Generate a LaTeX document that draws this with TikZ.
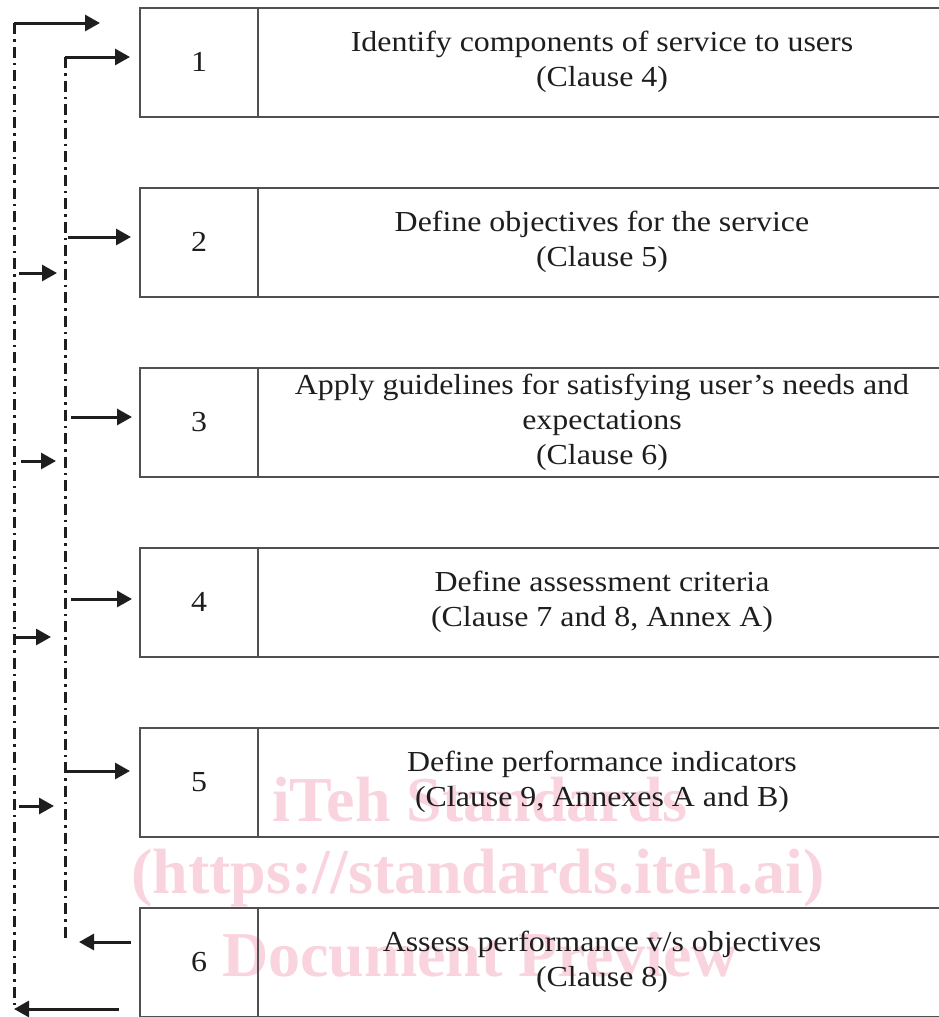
\documentclass[tikz,border=0pt]{standalone}
\usepackage{fontspec}
\setmainfont{Liberation Serif}
\newfontfamily\boxfont[FakeStretch=1.1]{Liberation Serif}
\usetikzlibrary{arrows.meta}
\definecolor{ink}{RGB}{30,30,30}
\definecolor{boxline}{RGB}{80,80,80}
\definecolor{wm}{RGB}{249,212,222}
\tikzset{
  x=1pt, y=-1pt,
  numbox/.style={draw=boxline, line width=2pt, minimum width=118pt, minimum height=109pt, inner sep=0pt, font=\boxfont\fontsize{29}{35}\selectfont, text=ink},
  txtbox/.style={draw=boxline, line width=2pt, minimum width=688pt, minimum height=109pt, inner sep=0pt, align=center, font=\boxfont\fontsize{29}{35}\selectfont, text=ink},
  dashdot/.style={draw=ink, line width=3pt, dash pattern=on 11pt off 5pt on 2.5pt off 5pt},
  arr/.style={draw=ink, line width=3pt, -{Triangle[length=15pt,width=16pt]}},
  wmtext/.style={text=wm, font=\bfseries\fontsize{64}{78}\selectfont}
}
\begin{document}
\begin{tikzpicture}
\useasboundingbox (0,0) rectangle (939,1017);
\clip (0,0) rectangle (939,1017);
\fill[white] (0,0) rectangle (939,1017);
% watermark
\node[wmtext] (wm1) at (480,800) {iTeh Standards};
\node[wmtext] (wm2) at (478,878) {(https://standards.iteh.ai)};
\node[wmtext] (wm3) at (480,955) {Document Preview};
% boxes
\node[numbox] (n1) at (199,62) {1};
\node[txtbox] (t1) at (602,62) {Identify components of service to users\\(Clause 4)};
\node[numbox] (n2) at (199,242) {2};
\node[txtbox] (t2) at (602,242) {Define objectives for the service\\(Clause 5)};
\node[numbox] (n3) at (199,422) {3};
\node[txtbox] (t3) at (602,422) {Apply guidelines for satisfying user’s needs and\\expectations\\(Clause 6)};
\node[numbox] (n4) at (199,602) {4};
\node[txtbox] (t4) at (602,602) {Define assessment criteria\\(Clause 7 and 8, Annex A)};
\node[numbox] (n5) at (199,782) {5};
\node[txtbox] (t5) at (602,782) {Define performance indicators\\(Clause 9, Annexes A and B)};
\node[numbox] (n6) at (199,962) {6};
\node[txtbox] (t6) at (602,962) {Assess performance v/s objectives\\(Clause 8)};
% feedback lines
\coordinate (oTop) at (14,23);
\coordinate (oEnd) at (100,23);
\coordinate (oBot) at (14,1009);
\coordinate (iTop) at (65,57);
\coordinate (iBot) at (65,940);
\draw[dashdot] (oTop) -- (oBot);
\draw[dashdot] (iTop) -- (iBot);
\draw[arr] (oTop) -- (oEnd);
\draw[arr, shorten >=9pt] (iTop) -- (iTop -| n1.west);
% inner line to boxes
\coordinate (i2) at (68,237);
\coordinate (i3) at (71,417);
\coordinate (i4) at (71,599);
\coordinate (i5) at (66,771);
\draw[arr, shorten >=8pt] (i2) -- (i2 -| n2.west);
\draw[arr, shorten >=7pt] (i3) -- (i3 -| n3.west);
\draw[arr, shorten >=7pt] (i4) -- (i4 -| n4.west);
\draw[arr, shorten >=9pt] (i5) -- (i5 -| n5.west);
% outer line to inner line
\coordinate (o2) at (19,273);
\coordinate (o3) at (21,461);
\coordinate (o4) at (16,637);
\coordinate (o5) at (19,806);
\draw[arr, shorten >=8pt] (o2) -- (o2 -| iTop);
\draw[arr, shorten >=9pt] (o3) -- (o3 -| iTop);
\draw[arr, shorten >=14pt] (o4) -- (o4 -| iTop);
\draw[arr, shorten >=11pt] (o5) -- (o5 -| iTop);
% from box 6 back
\coordinate (r6) at (131,942);
\coordinate (l6) at (79,942);
\draw[arr] (r6) -- (l6);
\coordinate (r7) at (119,1009);
\draw[arr] (r7) -- (oBot);
\end{tikzpicture}
\end{document}
